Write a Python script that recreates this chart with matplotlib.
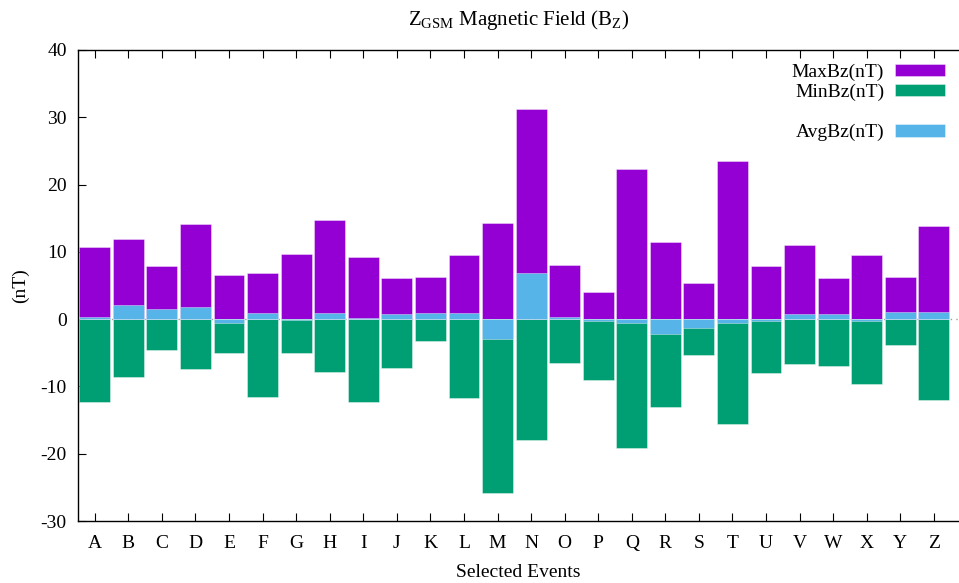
import matplotlib
matplotlib.use("Agg")
import matplotlib.pyplot as plt
from matplotlib.patches import Rectangle
import numpy as np

plt.rcParams['font.family'] = ['Liberation Serif', 'DejaVu Serif']
plt.rcParams['mathtext.fontset'] = 'custom'
plt.rcParams['mathtext.rm'] = 'Liberation Serif'
plt.rcParams['font.size'] = 14
plt.rcParams['axes.unicode_minus'] = False

# events and field extremes (nT)
events = list("ABCDEFGHIJKLMNOPQRSTUVWXYZ")
max_bz = [10.7, 11.9, 7.9, 14.1, 6.5, 6.85, 9.7, 14.8, 9.2, 6.05, 6.3, 9.57, 14.27,
          31.3, 8.1, 4.1, 22.3, 11.4, 5.37, 23.5, 7.84, 11.05, 6.06, 9.47, 6.2, 13.9]
min_bz = [-12.3, -8.6, -4.6, -7.35, -5.1, -11.5, -5.0, -7.9, -12.3, -7.25, -3.24, -11.75, -25.9,
          -18.0, -6.5, -9.0, -19.1, -13.0, -5.4, -15.6, -8.0, -6.65, -7.0, -9.6, -3.9, -12.0]
avg_bz = [0.33, 2.1, 1.56, 1.75, -0.6, 0.9, -0.2, 0.87, 0.1, 0.72, 0.87, 0.96, -2.9,
          6.85, 0.37, -0.22, -0.5, -2.2, -1.26, -0.52, -0.22, 0.72, 0.72, -0.22, 1.11, 1.11]

c_max = '#9400d3'
c_min = '#009e73'
c_avg = '#56b4e9'

fig = plt.figure(figsize=(9.59, 5.83), dpi=100)
ax = fig.add_axes([0.0813, 0.1063, 0.9187, 0.808])

x = np.arange(len(events))
w = 0.92
edge = dict(edgecolor=(1, 1, 1, 0.45), linewidth=0.6)
ax.axhline(0, color='#a0a0a0', lw=1, ls=(0, (1, 3)), zorder=0)
b1 = ax.bar(x, max_bz, w, color=c_max, zorder=2, **edge)
b2 = ax.bar(x, min_bz, w, color=c_min, zorder=2, **edge)
b3 = ax.bar(x, avg_bz, w, color=c_avg, zorder=3, **edge)

ax.set_xlim(-0.5, 25.75)
ax.set_ylim(-30, 40)
ax.set_yticks(range(-30, 41, 10))
ax.set_xticks(x)
ax.set_xticklabels(events)
ax.tick_params(axis='both', direction='in', length=6, width=0.8, pad=8)
ax.tick_params(axis='x', top=True, pad=10)
ax.spines['right'].set_visible(False)
for s in ['left', 'bottom', 'top']:
    ax.spines[s].set_linewidth(1)

ax.set_title(r'Z$_{\rm GSM}$ Magnetic Field (B$_{\rm Z}$)', fontsize=15, pad=18)
ax.set_xlabel('Selected Events', labelpad=9)
ax.set_ylabel('(nT)', labelpad=8)

# empty slot between min and avg keeps the gap in the key
blank = Rectangle((0, 0), 1, 1, visible=False)
ax.legend([b1, b2, blank, b3], ['MaxBz(nT)', 'MinBz(nT)', ' ', 'AvgBz(nT)'],
          loc='upper right', bbox_to_anchor=(1.0, 1.0), frameon=False,
          markerfirst=False, handlelength=2.6, handleheight=0.6,
          handletextpad=0.55, labelspacing=0.15, borderaxespad=0.3)

fig.savefig('out.png', dpi=100)
